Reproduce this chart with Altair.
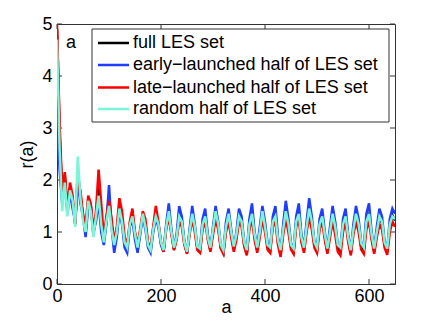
import altair as alt
import pandas as pd

a_values = list(range(0, 655, 5))

full_set = [
    4.9, 2.9, 1.7, 2.1, 1.45, 1.85, 1.6, 1.15, 2.15, 1.7,
    1.3, 1.0, 1.6, 1.5, 0.95, 1.3, 1.9, 1.3, 0.85, 1.2,
    1.7, 1.15, 0.7, 1.0, 1.5, 1.25, 0.8, 0.68, 1.15, 1.35,
    0.95, 0.68, 1.0, 1.35, 1.15, 0.75, 0.65, 1.05, 1.35, 1.15,
    0.78, 0.63, 1.1, 1.4, 1.0, 0.67, 0.9, 1.33, 1.2, 0.78,
    0.6, 1.0, 1.37, 1.08, 0.68, 0.63, 1.15, 1.32, 0.9, 0.65,
    1.03, 1.37, 1.12, 0.7, 0.6, 1.1, 1.32, 0.98, 0.66, 0.92,
    1.32, 1.2, 0.76, 0.58, 1.15, 1.4, 0.92, 0.65, 1.0, 1.37,
    1.1, 0.72, 0.65, 1.2, 1.35, 0.82, 0.57, 1.05, 1.42, 1.12,
    0.72, 0.62, 1.2, 1.4, 0.88, 0.65, 1.1, 1.47, 1.17, 0.75,
    0.64, 1.15, 1.32, 0.92, 0.62, 1.0, 1.35, 1.08, 0.68, 0.62,
    1.12, 1.32, 0.88, 0.58, 1.05, 1.35, 1.12, 0.73, 0.64, 1.2,
    1.37, 0.92, 0.62, 1.0, 1.3, 1.17, 0.76, 0.61, 1.12, 1.32,
    1.22,
]

early_half = [
    3.2, 2.2, 1.55, 1.95, 1.35, 1.75, 1.45, 1.2, 2.0, 1.55,
    1.3, 0.9, 1.5, 1.5, 1.0, 1.2, 1.6, 1.0, 0.75, 1.15,
    1.9, 1.1, 0.6, 0.9, 1.4, 1.15, 0.7, 0.6, 1.1, 1.25,
    0.85, 0.6, 0.95, 1.3, 1.05, 0.7, 0.6, 1.0, 1.25, 1.1,
    0.75, 0.62, 1.15, 1.55, 1.05, 0.68, 0.95, 1.5, 1.3, 0.8,
    0.6, 1.05, 1.5, 1.15, 0.7, 0.66, 1.25, 1.45, 0.95, 0.68,
    1.1, 1.5, 1.2, 0.72, 0.62, 1.2, 1.45, 1.05, 0.7, 1.0,
    1.45, 1.3, 0.8, 0.62, 1.25, 1.55, 1.0, 0.7, 1.1, 1.5,
    1.2, 0.78, 0.7, 1.3, 1.5, 0.9, 0.62, 1.15, 1.6, 1.25,
    0.78, 0.66, 1.3, 1.55, 0.95, 0.7, 1.2, 1.65, 1.3, 0.8,
    0.68, 1.25, 1.45, 1.0, 0.65, 1.1, 1.5, 1.2, 0.75, 0.68,
    1.25, 1.45, 0.95, 0.62, 1.15, 1.5, 1.25, 0.8, 0.7, 1.35,
    1.55, 1.0, 0.66, 1.1, 1.45, 1.3, 0.82, 0.66, 1.25, 1.45,
    1.35,
]

late_half = [
    5.0, 3.1, 1.8, 2.15, 1.45, 1.95, 1.7, 1.15, 2.0, 1.8,
    1.35, 1.1, 1.7, 1.55, 1.0, 1.4, 2.2, 1.55, 0.9, 1.3,
    1.6, 1.25, 0.8, 1.1, 1.65, 1.4, 0.9, 0.75, 1.2, 1.45,
    1.0, 0.75, 1.05, 1.4, 1.25, 0.8, 0.7, 1.1, 1.5, 1.2,
    0.8, 0.62, 1.05, 1.3, 0.95, 0.65, 0.85, 1.2, 1.1, 0.75,
    0.58, 0.95, 1.25, 1.0, 0.65, 0.6, 1.05, 1.2, 0.85, 0.62,
    0.95, 1.25, 1.05, 0.68, 0.58, 1.0, 1.2, 0.9, 0.62, 0.85,
    1.2, 1.1, 0.72, 0.55, 1.05, 1.25, 0.85, 0.6, 0.9, 1.25,
    1.0, 0.66, 0.6, 1.1, 1.2, 0.75, 0.52, 0.95, 1.25, 1.0,
    0.66, 0.58, 1.1, 1.25, 0.8, 0.6, 1.0, 1.3, 1.05, 0.7,
    0.6, 1.05, 1.2, 0.85, 0.58, 0.9, 1.2, 0.95, 0.62, 0.55,
    1.0, 1.2, 0.8, 0.55, 0.95, 1.2, 1.0, 0.66, 0.58, 1.05,
    1.2, 0.85, 0.58, 0.9, 1.15, 1.05, 0.7, 0.56, 1.0, 1.2,
    1.1,
]

random_half = [
    4.7, 2.6, 1.4, 1.95, 1.3, 1.8, 1.6, 1.1, 2.45, 1.65,
    1.2, 1.0, 1.6, 1.4, 0.9, 1.3, 1.7, 1.15, 0.8, 1.2,
    1.5, 1.05, 0.75, 1.0, 1.45, 1.2, 0.8, 0.7, 1.15, 1.3,
    0.95, 0.7, 1.0, 1.35, 1.1, 0.75, 0.65, 1.05, 1.3, 1.15,
    0.8, 0.65, 1.1, 1.4, 1.0, 0.7, 0.9, 1.3, 1.2, 0.8,
    0.62, 1.0, 1.35, 1.1, 0.72, 0.68, 1.15, 1.3, 0.9, 0.7,
    1.05, 1.4, 1.15, 0.75, 0.65, 1.1, 1.35, 1.0, 0.72, 0.95,
    1.3, 1.2, 0.8, 0.65, 1.15, 1.35, 0.95, 0.7, 1.0, 1.4,
    1.1, 0.75, 0.7, 1.2, 1.3, 0.85, 0.65, 1.05, 1.4, 1.15,
    0.75, 0.68, 1.2, 1.35, 0.9, 0.7, 1.1, 1.45, 1.2, 0.8,
    0.7, 1.15, 1.3, 0.95, 0.68, 1.0, 1.35, 1.1, 0.75, 0.7,
    1.15, 1.3, 0.9, 0.65, 1.05, 1.35, 1.15, 0.78, 0.7, 1.2,
    1.35, 0.95, 0.68, 1.0, 1.3, 1.2, 0.8, 0.68, 1.15, 1.3,
    1.25,
]

series_names = [
    "full LES set",
    "early\u2212launched half of LES set",
    "late\u2212launched half of LES set",
    "random half of LES set",
]
series_colors = ["#000000", "#1f3cff", "#ff0000", "#7af5d8"]
x_ticks = [0, 200, 400, 600]
y_ticks = [0, 1, 2, 3, 4, 5]

rows = []
for name, vals in zip(series_names, [full_set, early_half, late_half, random_half]):
    for a, v in zip(a_values, vals):
        rows.append({"a": a, "r": v, "series": name})
df = pd.DataFrame(rows)

W, H = 338, 260
FONT = "Liberation Sans"
FS = 18
xs = alt.Scale(domain=[0, 650], nice=False, zero=False)
ys = alt.Scale(domain=[0, 5], nice=False)

color = alt.Color(
    "series:N",
    scale=alt.Scale(domain=series_names, range=series_colors),
    legend=None,
)

x_enc = alt.X("a:Q", scale=xs, axis=alt.Axis(
    values=x_ticks, title="a", tickSize=0, labelPadding=3, domainColor="#333",
    labelFontSize=FS, titleFontSize=FS, labelFont=FONT, titleFont=FONT,
    labelColor="black", titleColor="black", titleFontWeight="normal",
    titlePadding=-7, grid=False, labelFlush=False))
y_enc = alt.Y("r:Q", scale=ys, axis=alt.Axis(
    values=y_ticks, title="r(a)", tickSize=0, labelPadding=5, domainColor="#333",
    labelFontSize=FS, titleFontSize=FS, labelFont=FONT, titleFont=FONT,
    labelColor="black", titleColor="black", titleFontWeight="normal",
    titlePadding=5, grid=False, labelFlush=False))

layers = []
for i, name in enumerate(series_names):
    enc = dict(x=x_enc, y=y_enc, color=color) if i == 0 else dict(
        x=alt.X("a:Q", scale=xs), y=alt.Y("r:Q", scale=ys), color=color)
    layers.append(
        alt.Chart(df).transform_filter(alt.datum.series == name)
        .mark_line(strokeWidth=2.5, clip=True).encode(**enc)
    )

xt = pd.DataFrame({"t": x_ticks})
yt = pd.DataFrame({"t": y_ticks})
tick_color = "#333"
bx = alt.Chart(xt).mark_rule(color=tick_color).encode(
    x=alt.X("t:Q", scale=xs), y=alt.value(H), y2=alt.value(H - 5))
tx = alt.Chart(xt).mark_rule(color=tick_color).encode(
    x=alt.X("t:Q", scale=xs), y=alt.value(0), y2=alt.value(5))
ly = alt.Chart(yt).mark_rule(color=tick_color).encode(
    y=alt.Y("t:Q", scale=ys), x=alt.value(0), x2=alt.value(5))
ry = alt.Chart(yt).mark_rule(color=tick_color).encode(
    y=alt.Y("t:Q", scale=ys), x=alt.value(W - 5), x2=alt.value(W))

# hand-built legend box (MATLAB style)
one = pd.DataFrame({"k": [0]})
legend_layers = [
    alt.Chart(one).mark_rect(fill="white", stroke="#333", strokeWidth=1).encode(
        x=alt.value(35), x2=alt.value(332), y=alt.value(5), y2=alt.value(98))
]
row_y = [19, 41, 63.5, 85]
for name, col, yc in zip(series_names, series_colors, row_y):
    legend_layers.append(
        alt.Chart(one).mark_rule(color=col, strokeWidth=2.5).encode(
            x=alt.value(41), x2=alt.value(72), y=alt.value(yc)))
    legend_layers.append(
        alt.Chart(pd.DataFrame({"t": [name]})).mark_text(
            font=FONT, fontSize=FS, align="left", baseline="middle", color="black"
        ).encode(text="t:N", x=alt.value(76), y=alt.value(yc)))

label = alt.Chart(pd.DataFrame({"t": ["a"]})).mark_text(
    font=FONT, fontSize=FS, align="left", baseline="middle", color="black"
).encode(text="t:N", x=alt.value(9), y=alt.value(19))

chart = alt.layer(bx, tx, ly, ry, *layers, label, *legend_layers).properties(
    width=W, height=H,
    autosize=alt.AutoSizeParams(type="none"),
    padding={"left": 49, "top": 16, "right": 33, "bottom": 36},
    background="white",
).configure_view(stroke="#333", strokeWidth=1)

chart.save("out.html", embed_options={"renderer": "svg", "actions": False})
